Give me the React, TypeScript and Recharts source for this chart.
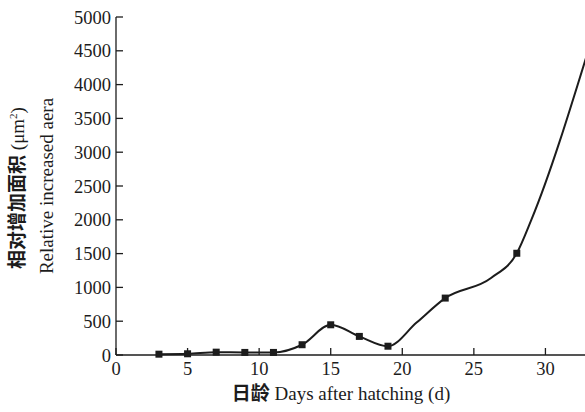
import { LineChart, Line, XAxis, YAxis } from "recharts";

// days after hatching
const days = [3, 5, 7, 9, 11, 13, 15, 17, 19, 21, 23, 26.2, 28, 29, 33];
// relative increased area (µm²)
const area = [12, 18, 42, 38, 38, 152, 447, 275, 130, 480, 842, 1140, 1505, 1990, 4510];
// true = measured point drawn with a square marker
const measured = [true, true, true, true, true, true, true, true, true, false, true, false, true, false, false];

const xTicks = [0, 5, 10, 15, 20, 25, 30];
const yTicks = [0, 500, 1000, 1500, 2000, 2500, 3000, 3500, 4000, 4500, 5000];

const data = days.map((d, i) => ({ day: d, value: area[i], mark: measured[i] }));

const ink = "#1c1c1c";
const serif = '"Liberation Serif", "Times New Roman", "Noto Sans CJK SC", serif';
const cjk = '"Noto Sans CJK SC", sans-serif';

function SquareDot(props: any) {
  const { cx, cy, payload } = props;
  if (!payload?.mark) return null;
  return <rect x={cx - 3.5} y={cy - 3.5} width={7} height={7} fill={ink} />;
}

export default function App() {
  return (
    <div
      style={{
        position: "absolute",
        left: 0,
        top: 0,
        width: 585,
        height: 412,
        overflow: "hidden",
        background: "#fff",
      }}
    >
      <LineChart
        width={625}
        height={412}
        data={data}
        margin={{ top: 17, right: 8, left: 0, bottom: 0 }}
      >
        <XAxis
          dataKey="day"
          type="number"
          domain={[0, 35]}
          ticks={xTicks}
          height={57}
          tickSize={-7}
          tickMargin={14}
          stroke={ink}
          strokeWidth={1.3}
          tick={{ fontSize: 18.5, fill: ink, fontFamily: serif }}
        />
        <YAxis
          type="number"
          domain={[0, 5000]}
          ticks={yTicks}
          width={116}
          tickSize={-7}
          tickMargin={12}
          stroke={ink}
          strokeWidth={1.3}
          tick={{ fontSize: 18.5, fill: ink, fontFamily: serif }}
        />
        <Line
          type="monotone"
          dataKey="value"
          stroke={ink}
          strokeWidth={2}
          dot={<SquareDot />}
          activeDot={false}
          isAnimationActive={false}
        />
      </LineChart>
      <svg
        width={585}
        height={412}
        style={{ position: "absolute", left: 0, top: 0, pointerEvents: "none" }}
      >
        <text
          transform="translate(24,188) rotate(-90)"
          textAnchor="middle"
          fontSize={19}
          fill={ink}
        >
          <tspan fontFamily={cjk} fontWeight={700}>相对增加面积</tspan>
          <tspan fontFamily={serif}> (μm</tspan>
          <tspan fontFamily={serif} fontSize={11} dy={-7}>2</tspan>
          <tspan fontFamily={serif} dy={7}>)</tspan>
        </text>
        <text
          transform="translate(53,186) rotate(-90)"
          textAnchor="middle"
          fontSize={19}
          fill={ink}
          fontFamily={serif}
        >
          Relative increased aera
        </text>
        <text x={341} y={400} textAnchor="middle" fontSize={19} fill={ink}>
          <tspan fontFamily={cjk} fontWeight={700}>日龄</tspan>
          <tspan fontFamily={serif}> Days after hatching (d)</tspan>
        </text>
      </svg>
    </div>
  );
}
